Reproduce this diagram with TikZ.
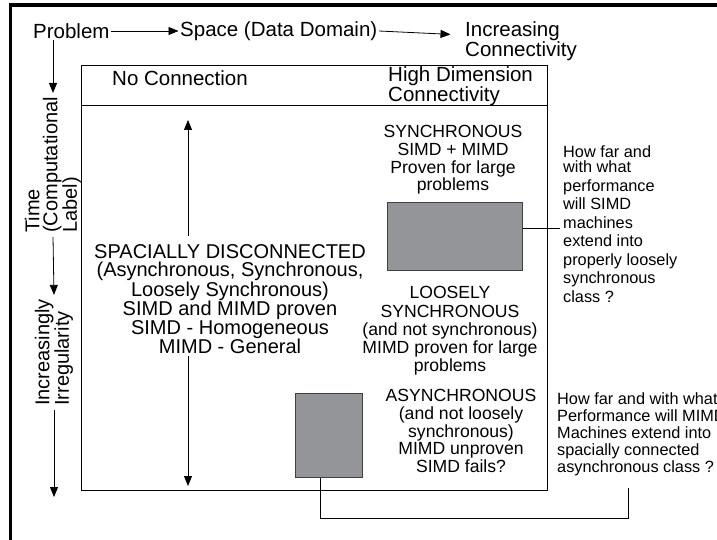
\documentclass[tikz,border=0pt]{standalone}
\usepackage{fontspec}
\setmainfont{Liberation Sans}
\usepackage{xcolor}
\usetikzlibrary{arrows.meta, positioning}
\definecolor{boxgray}{RGB}{148,149,153}

\begin{document}
\begin{tikzpicture}[x=1pt, y=-1pt,
            axis-text/.style={font=\fontsize{20.5}{18.5}\selectfont, inner sep=1.5pt},
            side-text/.style={font=\fontsize{20}{18}\selectfont, rotate=90, align=left, inner sep=4pt},
            class-text/.style={font=\fontsize{17.6}{17.6}\selectfont, align=center, inner sep=0pt},
            note-text/.style={font=\fontsize{16.3}{18.5}\selectfont, align=left, inner sep=0pt},
            gray-block/.style={rectangle, draw=black!75, fill=boxgray, line width=1pt, inner sep=0pt, anchor=north west},
            arrow/.style={->, >={Triangle[length=10pt, width=8pt]}, line width=0.8pt},
            link/.style={line width=0.8pt}
        ]
        \useasboundingbox (0,0) rectangle (717,540);

        % Frame
        \draw[line width=3.5pt] (10.5,540) -- (10.5,5) -- (717,5);

        % Axes
        \node[axis-text, anchor=west] (problem) at (31.5,31) {Problem};
        \node[axis-text, anchor=west] (space) at (178.5,31) {Space (Data Domain)};
        \node[axis-text, anchor=west, align=left] (connect) at (463.5,41) {Increasing\\Connectivity};
        \node[side-text, anchor=west] (time) at (53,237) {Time\\(Computational\\Label)};
        \node[side-text, anchor=west] (irreg) at (54,410) {Increasingly\\Irregularity};
        \coordinate (irreg-end) at (54,497);

        \draw[arrow] (problem) -- (space);
        \draw[arrow, shorten >=13pt] (space.east) -- ([yshift=-4pt]space.east -| connect.west);
        \draw[arrow] (time.east |- problem.south) -- (time.east);
        \draw[arrow] (time.west) -- (irreg.east);
        \draw[arrow] (irreg.west) -- (irreg-end);

        % Class table
        \node[draw, line width=0.8pt, minimum width=466pt, minimum height=425pt, inner sep=0pt, anchor=north west] (table) at (81,65) {};
        \draw[link] (table.west |- 0,105) -- (table.east |- 0,105);
        \node[axis-text, anchor=west] (none) at (110.5,78) {No Connection};
        \node[axis-text, anchor=west, align=left] (high) at (386.5,86.5) {High Dimension\\Connectivity};

        \node[axis-text, font=\fontsize{20}{18.4}\selectfont, align=center, inner sep=8pt] (spacial) at (230,299) {SPACIALLY DISCONNECTED\\(Asynchronous, Synchronous,\\Loosely Synchronous)\\SIMD and MIMD proven\\SIMD - Homogeneous\\MIMD - General};
        \coordinate (up-end) at (188,120);
        \coordinate (down-end) at (188,486);
        \draw[arrow] (spacial.north -| up-end) -- (up-end);
        \draw[arrow] ([yshift=6pt]spacial.south -| down-end) -- (down-end);

        \node[class-text] (sync) at (453,160) {SYNCHRONOUS\\SIMD + MIMD\\Proven for large\\problems};
        \node[class-text, font=\fontsize{17.6}{18.3}\selectfont] (loose) at (450,331) {LOOSELY\\SYNCHRONOUS\\(and not synchronous)\\MIMD proven for large\\problems};
        \node[class-text] (async) at (461,431) {ASYNCHRONOUS\\(and not loosely\\synchronous)\\MIMD unproven\\SIMD fails?};

        \node[gray-block, minimum width=135pt, minimum height=68pt] (sync-box) at (387,202) {};
        \node[gray-block, minimum width=67pt, minimum height=84pt] (async-box) at (295,393) {};

        % Open questions
        \node[note-text, anchor=north west] (simd-note) at (563,145) {How far and\\[-3pt]with what\\performance\\will SIMD\\machines\\extend into\\properly loosely\\synchronous\\class ?};
        \node[note-text, font=\fontsize{16.3}{17}\selectfont, anchor=north west] (mimd-note) at (557,392) {How far and with what\\Performance will MIMD\\Machines extend into\\spacially connected\\asynchronous class ?};
        \coordinate (simd-tap) at (560,228);
        \coordinate (mimd-tap) at (628,488);

        \draw[link] (sync-box.east |- simd-tap) -- (simd-tap);
        \draw[link] ([xshift=-8.5pt]async-box.south) -- ++(0,40) -| (mimd-tap);

    \end{tikzpicture}
\end{document}
